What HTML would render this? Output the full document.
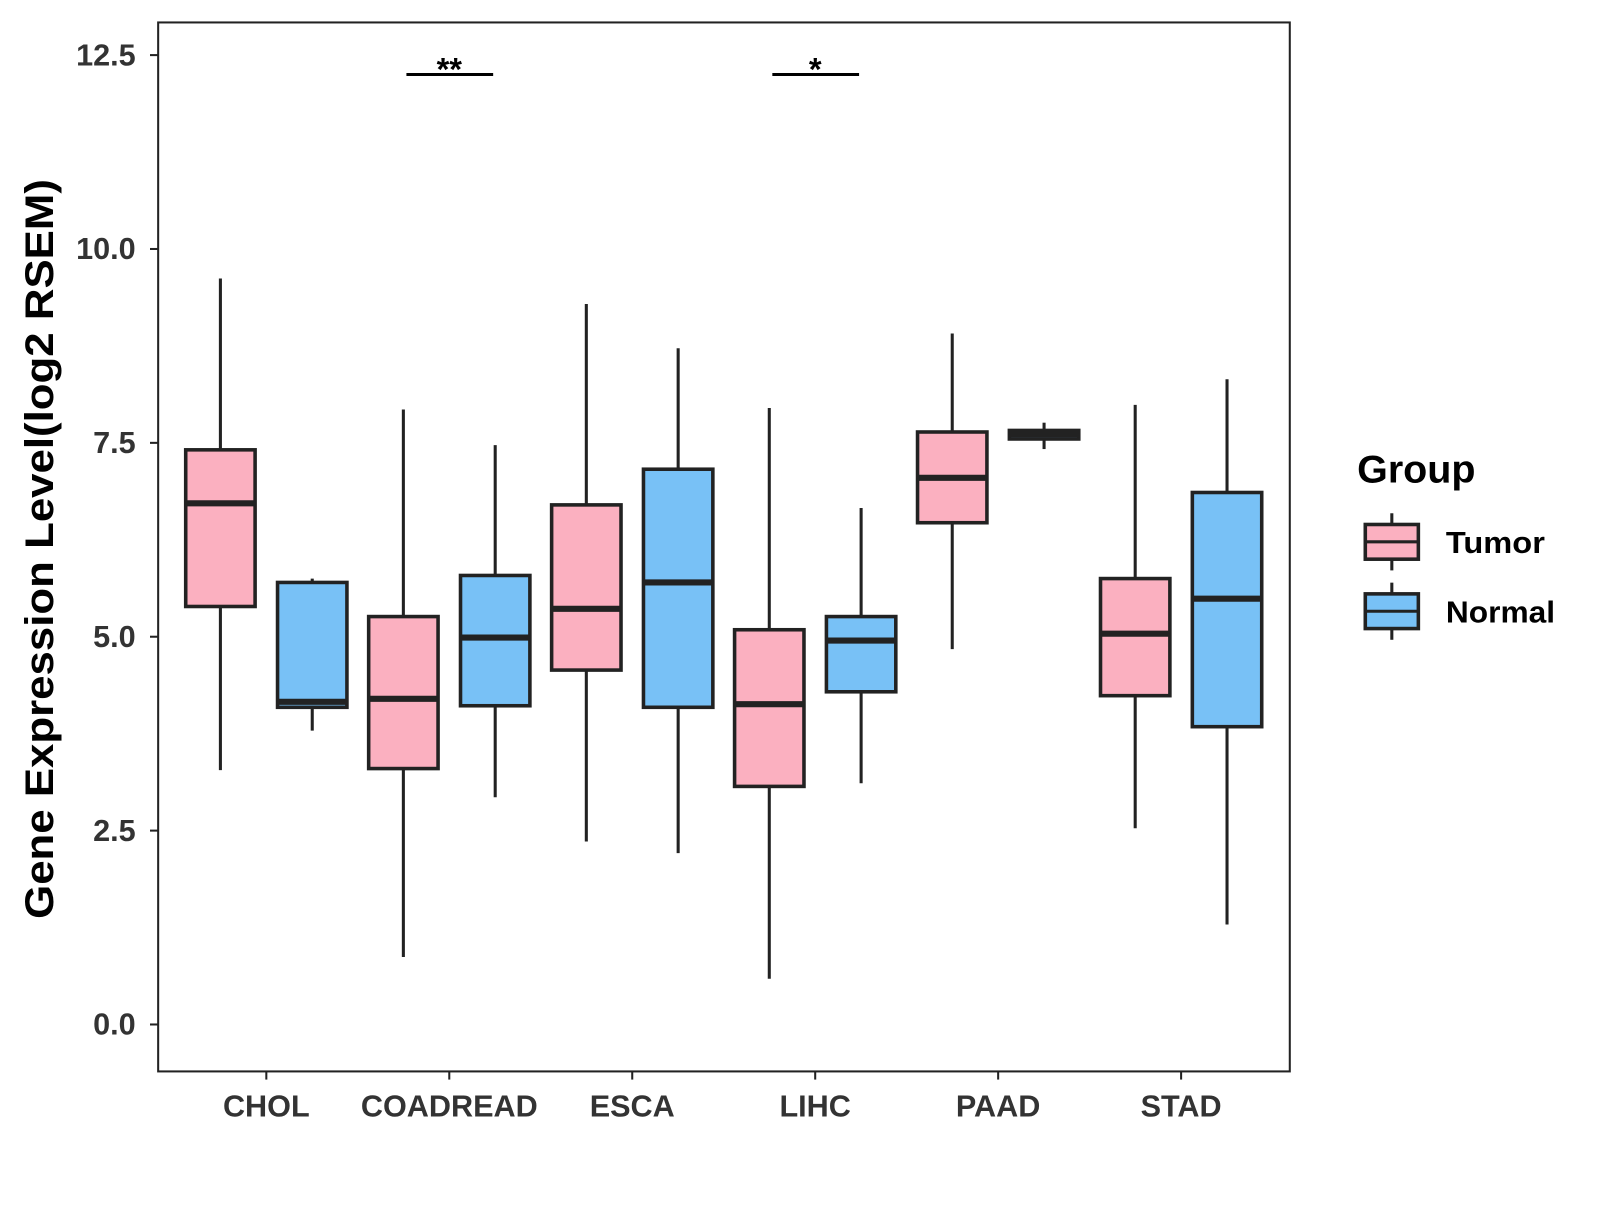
<!DOCTYPE html>
<html><head><meta charset="utf-8"><style>
body{margin:0;background:#fff}
svg text{font-family:"Liberation Sans",Arial,sans-serif;font-weight:bold}
</style></head><body>
<svg id="chart" width="1600" height="1200" xmlns="http://www.w3.org/2000/svg">
<g transform="scale(1.0204)">
<rect x="155" y="22" width="1109" height="1028" fill="#fff" stroke="#222" stroke-width="2"/>
<g id="marks"></g>
<text transform="translate(52,538) rotate(-90)" text-anchor="middle" font-size="39" textLength="725" lengthAdjust="spacingAndGlyphs" fill="#000">Gene Expression Level(log2 RSEM)</text>
<g>
<text x="1330" y="473" font-size="38" textLength="116" lengthAdjust="spacingAndGlyphs" fill="#000">Group</text>
<g>
<line x1="1364" y1="503" x2="1364" y2="559" stroke="#222" stroke-width="3"/>
<rect x="1338" y="514" width="52" height="34" fill="#FBB0C0" stroke="#222" stroke-width="3.5"/>
<line x1="1338" y1="531" x2="1390" y2="531" stroke="#222" stroke-width="3"/>
<text x="1417" y="542" font-size="30" textLength="97" lengthAdjust="spacingAndGlyphs" fill="#000">Tumor</text></g>
<g>
<line x1="1364" y1="571" x2="1364" y2="627" stroke="#222" stroke-width="3"/>
<rect x="1338" y="582" width="52" height="34" fill="#78C1F6" stroke="#222" stroke-width="3.5"/>
<line x1="1338" y1="599" x2="1390" y2="599" stroke="#222" stroke-width="3"/>
<text x="1417" y="610" font-size="30" textLength="107" lengthAdjust="spacingAndGlyphs" fill="#000">Normal</text></g>
</g>
</g>
</svg>
<script>
const categories=["CHOL","COADREAD","ESCA","LIHC","PAAD","STAD"];
const groups=["Tumor","Normal"];
const colors=["#FBB0C0","#78C1F6"];
// [lowerWhisker, q1, median, q3, upperWhisker]
const tumorStats=[[3.28,5.39,6.72,7.41,9.62],[0.87,3.30,4.20,5.26,7.93],[2.36,4.57,5.36,6.70,9.29],[0.59,3.07,4.13,5.09,7.95],[4.84,6.47,7.05,7.64,8.91],[2.53,4.24,5.04,5.75,7.99]];
const normalStats=[[3.79,4.09,4.16,5.70,5.75],[2.93,4.11,4.99,5.79,7.47],[2.21,4.09,5.70,7.16,8.72],[3.11,4.29,4.95,5.26,6.66],[7.42,7.55,7.61,7.66,7.76],[1.29,3.84,5.49,6.86,8.32]];
const yTicks=[0,2.5,5,7.5,10,12.5];
const yTickLabels=["0.0","2.5","5.0","7.5","10.0","12.5"];
const sigCategories=["COADREAD","LIHC"];
const sigLabels=["**","*"];
const sigLevel=12.25;

const NS="http://www.w3.org/2000/svg";
const g=document.getElementById("marks");
const y=v=>1004-v*76;
const x=i=>261+i*179.3;
function mk(t,a){const e=document.createElementNS(NS,t);for(const k in a)e.setAttribute(k,a[k]);g.appendChild(e);return e;}

yTicks.forEach((t,i)=>{
  const tk=mk("line",{x1:147,x2:155,y1:y(t),y2:y(t),stroke:"#222","stroke-width":2});
  
  
  const lb=mk("text",{x:133,y:y(t)+10,"text-anchor":"end","font-size":30,fill:"#333"});
  lb.textContent=yTickLabels[i];
  
  
});
categories.forEach((c,i)=>{
  const tk=mk("line",{x1:x(i),x2:x(i),y1:1050,y2:1058,stroke:"#222","stroke-width":2});
  
  
  const lb=mk("text",{x:x(i),y:1094,"text-anchor":"middle","font-size":30,fill:"#333"});
  lb.textContent=c;
  
  
  [tumorStats[i],normalStats[i]].forEach((s,j)=>{
    const cx=x(i)+(j?45:-45), hw=34;
    const w=mk("line",{x1:cx,x2:cx,y1:y(s[0]),y2:y(s[4]),stroke:"#222","stroke-width":3});
    
    
    const b=mk("rect",{x:cx-hw,y:y(s[3]),width:2*hw,height:Math.max(1,y(s[1])-y(s[3])),fill:colors[j],stroke:"#222","stroke-width":3.5});
    
    
    const m=mk("line",{x1:cx-hw,x2:cx+hw,y1:y(s[2]),y2:y(s[2]),stroke:"#222","stroke-width":6});
    
    
  });
});
sigCategories.forEach((c,k)=>{
  const i=categories.indexOf(c);
  const l=mk("line",{x1:x(i)-42,x2:x(i)+43,y1:y(sigLevel),y2:y(sigLevel),stroke:"#000","stroke-width":3});
  
  
  const t=mk("text",{x:x(i),y:y(sigLevel)+6,"text-anchor":"middle","font-size":32,fill:"#000"});
  t.textContent=sigLabels[k];
  
  
});
</script>
</body></html>
